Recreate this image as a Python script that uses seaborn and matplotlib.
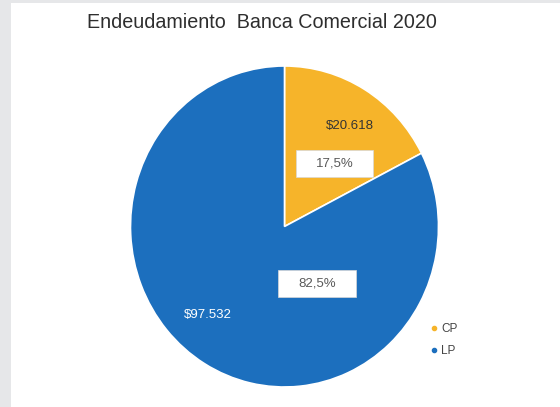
import matplotlib
matplotlib.use("Agg")
import matplotlib.pyplot as plt
import seaborn as sns
from matplotlib.patches import Rectangle
from matplotlib.lines import Line2D
import numpy as np

sns.set_theme(style="white")
plt.rcParams['font.family'] = ['Liberation Sans', 'DejaVu Sans']

# data
categories = ["CP", "LP"]
values = [20618, 97532]
value_labels = ["$20.618", "$97.532"]
pct_labels = ["17,5%", "82,5%"]
colors = ["#F6B42A", "#1C6FBE"]
title = "Endeudamiento  Banca Comercial 2020"

W, H = 560, 407
fig = plt.figure(figsize=(W / 100, H / 100), dpi=100, facecolor="#E6E7E9")
# white panel
bg = fig.add_axes([11 / W, 0, 1 - 11 / W, 1 - 3 / H], zorder=0)
bg.set_facecolor("white")
bg.set_axis_off()
bg.add_patch(Rectangle((0, 0), 1, 1, transform=bg.transAxes, facecolor="white", edgecolor="none"))

fig.text(262 / W, 1 - 22 / H, title, ha="center", va="center",
         fontsize=14.2, color="#2e2e2e", zorder=5)

cx, cy, rx, ry = 284.5, 226.5, 154, 160.5
ax = fig.add_axes([(cx - rx) / W, (H - cy - ry) / H, 2 * rx / W, 2 * ry / H], zorder=2)
ax.set_axis_off()
wedges, _ = ax.pie(values, colors=colors, startangle=90, counterclock=False,
                   radius=1, wedgeprops=dict(edgecolor="white", linewidth=1.2))
ax.set_xlim(-1, 1)
ax.set_ylim(-1, 1)
ax.set_aspect("auto")

def pos(px, py):
    return (px - cx) / rx, (cy - py) / ry

# value labels
vx, vy = pos(350, 126)
ax.text(vx, vy, value_labels[0], ha="center", va="center", fontsize=9.5, color="#333333")
vx, vy = pos(208, 315)
ax.text(vx, vy, value_labels[1], ha="center", va="center", fontsize=9.5, color="white")

# percentage boxes
for (bx0, by0, bx1, by1), lab in zip([(296, 150, 373, 177), (278, 270, 356, 297)], pct_labels):
    x0, y1 = pos(bx0, by0)
    x1, y0 = pos(bx1, by1)
    ax.add_patch(Rectangle((x0, y0), x1 - x0, y1 - y0, facecolor="white",
                           edgecolor="#d8d8d8", linewidth=0.5, zorder=3))
    ax.text((x0 + x1) / 2, (y0 + y1) / 2, lab, ha="center", va="center",
            fontsize=9.5, color="#595959", zorder=4)

handles = [Line2D([], [], marker="o", linestyle="", markersize=3,
                  markerfacecolor=c, markeredgecolor=c) for c in colors]
leg = fig.legend(handles, categories, loc="center left",
                 bbox_to_anchor=(420 / W, 1 - 340 / H), frameon=False,
                 fontsize=8.5, labelcolor="#444444", handlelength=0.6,
                 handletextpad=0.3, labelspacing=0.9)
leg.set_zorder(5)

fig.savefig("out.png", dpi=100, facecolor=fig.get_facecolor())
